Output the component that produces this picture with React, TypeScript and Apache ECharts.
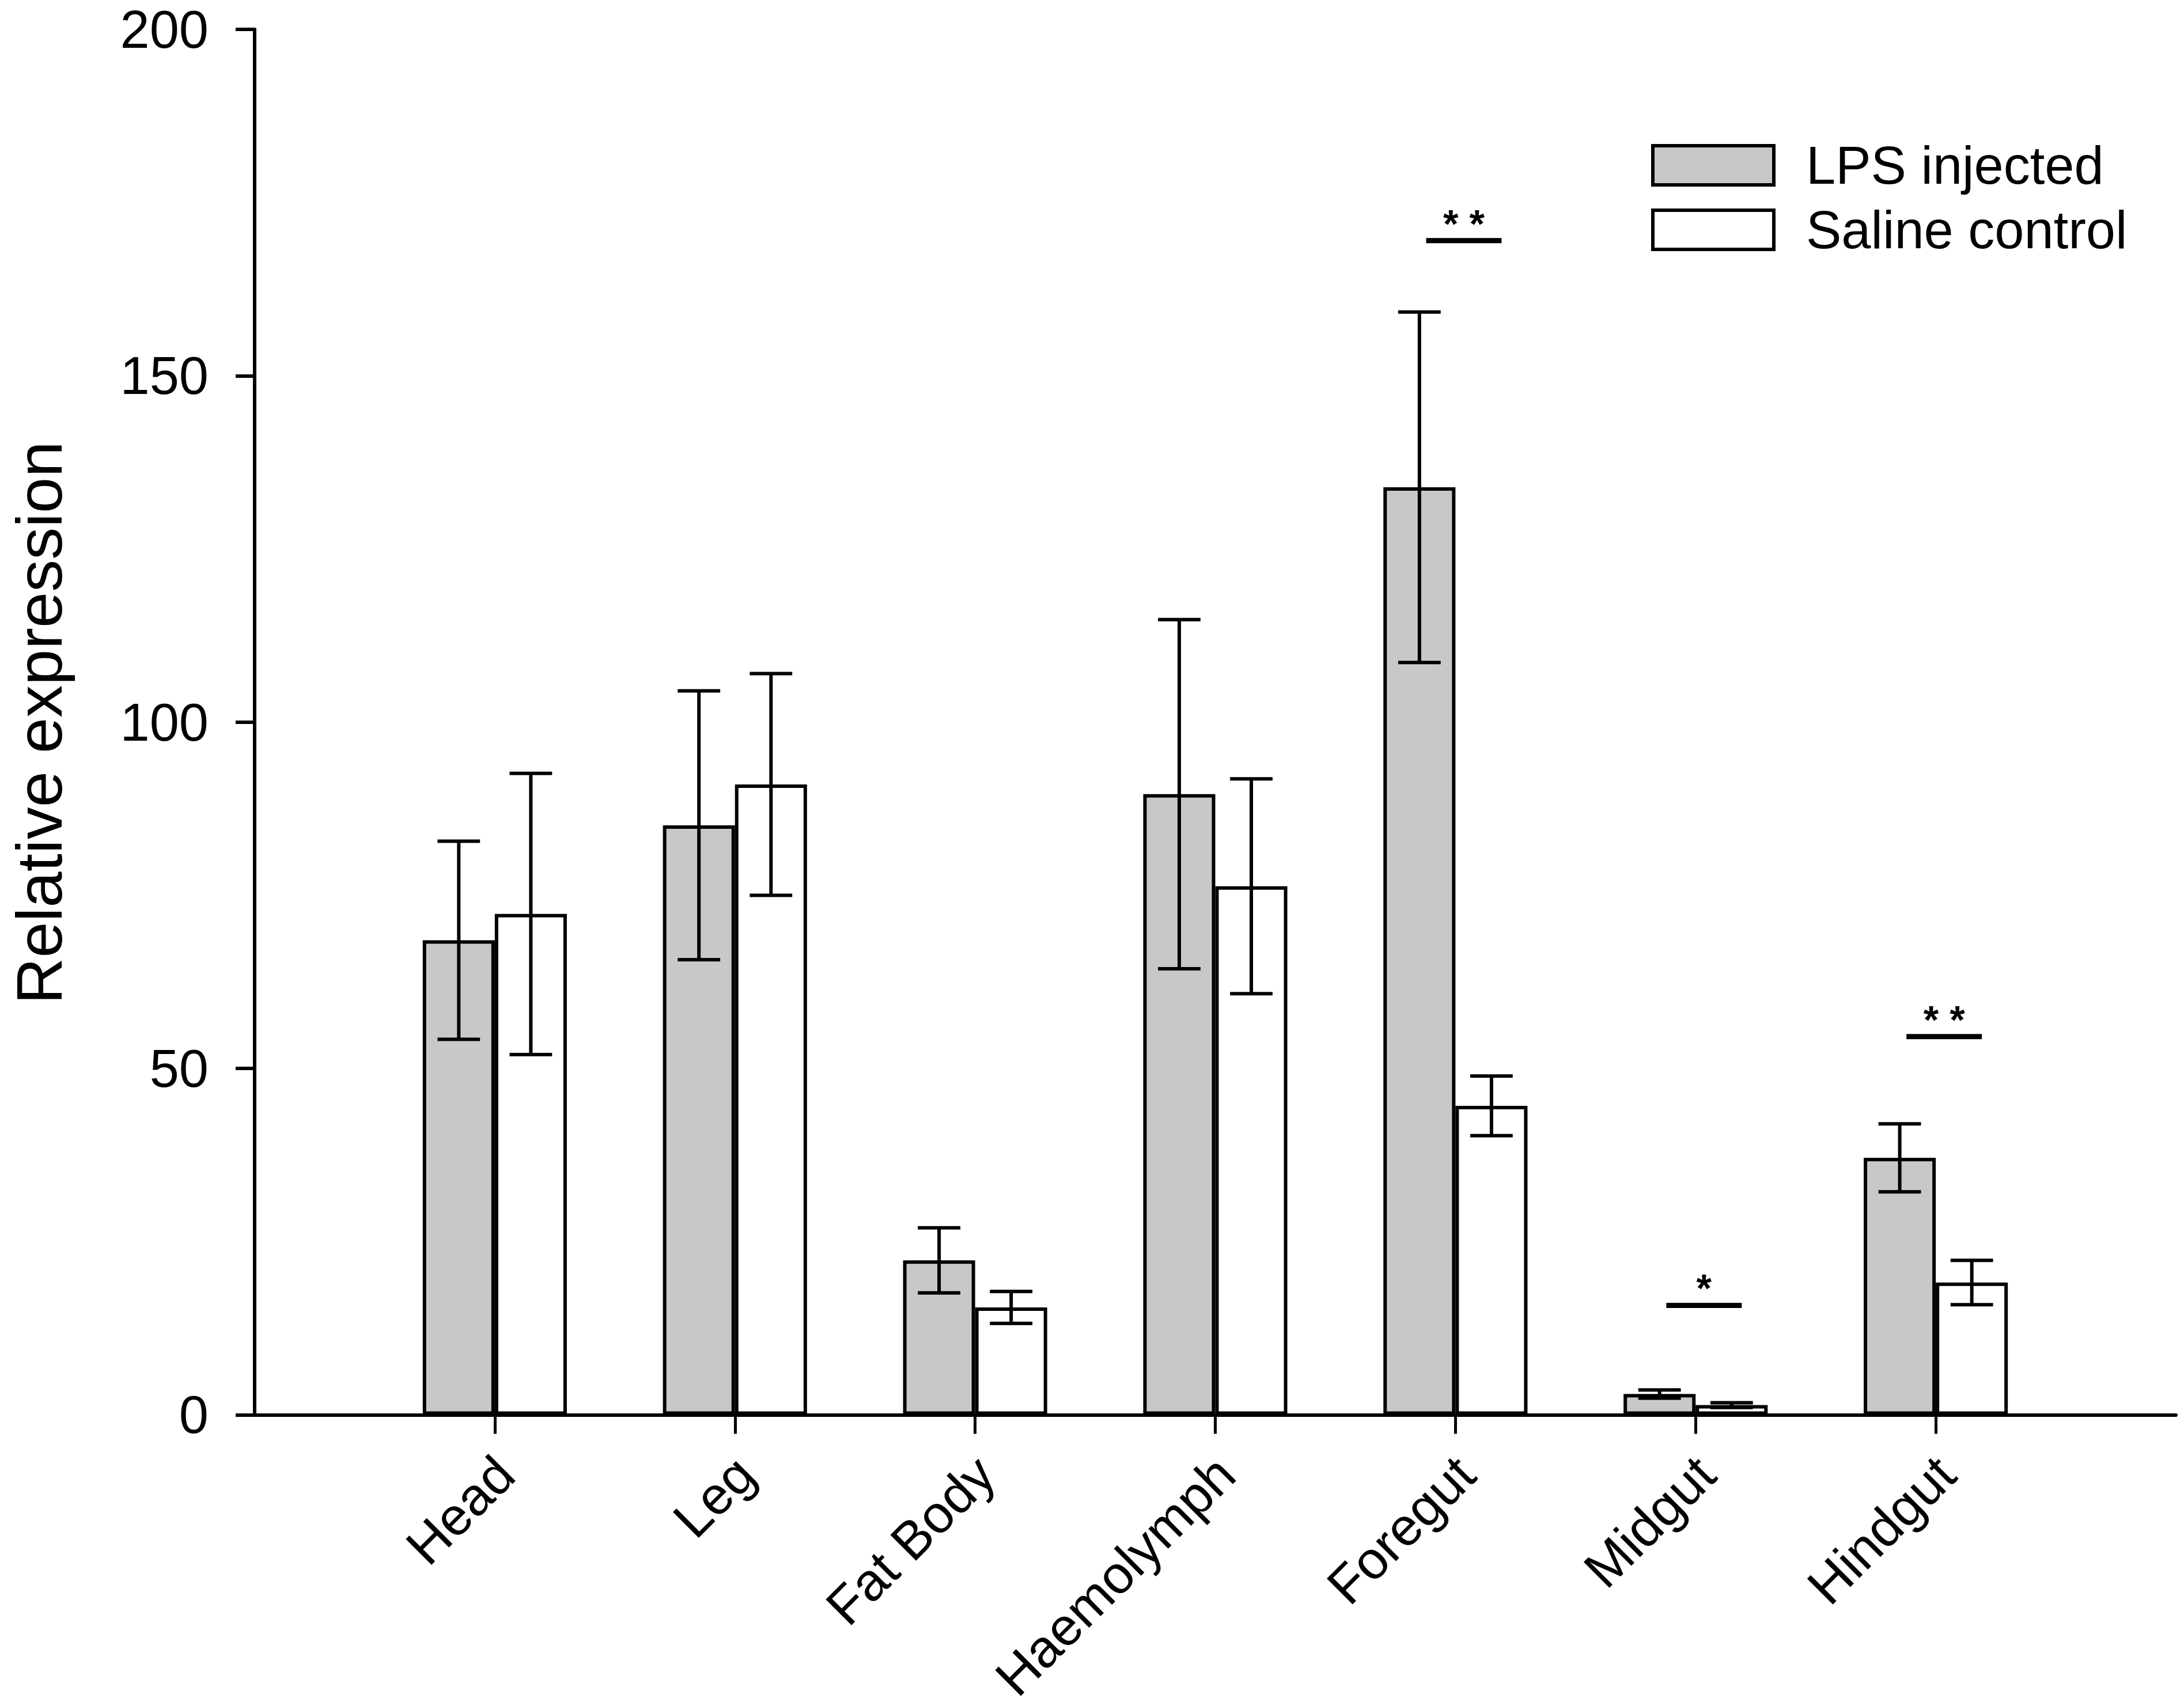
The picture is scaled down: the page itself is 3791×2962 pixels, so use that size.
import React, { useEffect, useRef } from 'react';
import * as echarts from 'echarts';

// ---- data ----
const categories = ['', 'Head', 'Leg', 'Fat Body', 'Haemolymph', 'Foregut', 'Midgut', 'Hindgut', ''];
const lpsMean = [null, 68.5, 85.1, 22.3, 89.6, 133.9, 3.0, 37.1, null];
const lpsErr = [null, 14.3, 19.4, 4.7, 25.2, 25.3, 0.6, 4.9, null];
const salineMean = [null, 72.3, 91.0, 15.5, 76.3, 44.6, 1.4, 19.1, null];
const salineErr = [null, 20.3, 16.0, 2.3, 15.5, 4.3, 0.35, 3.2, null];
const sigCategories = ['Foregut', 'Midgut', 'Hindgut'];
const sigHeights = [169.5, 15.8, 54.6];
const sigLabels = ['* *', '*', '* *'];
const seriesNames = ['LPS injected', 'Saline control'];
const yMin = 0;
const yMax = 200;
const yInterval = 50;
const yTitle = 'Relative expression';

const FONT = '"Liberation Sans", Arial, Helvetica, sans-serif';
const BAR_FRAC = 0.3;
const LW = 6;

function errItems(means: (number | null)[], errs: (number | null)[]) {
  const out: any[] = [];
  means.forEach((m, i) => {
    if (m !== null && errs[i] !== null) out.push([categories[i], m, errs[i]]);
  });
  return out;
}

function makeErrorRender(side: number) {
  return (params: any, api: any) => {
    const mean = api.value(1);
    const err = api.value(2);
    const idx = api.value(0);
    const band = api.size([1, 0])[0];
    const w = band * BAR_FRAC;
    const cx = api.coord([idx, mean])[0] + (side * w) / 2;
    const top = api.coord([idx, mean + err])[1];
    const bot = api.coord([idx, mean - err])[1];
    const cap = (w * 0.59) / 2;
    const st = { stroke: '#000', lineWidth: LW };
    return {
      type: 'group',
      children: [
        { type: 'line', shape: { x1: cx, y1: top, x2: cx, y2: bot }, style: st },
        { type: 'line', shape: { x1: cx - cap, y1: top, x2: cx + cap, y2: top }, style: st },
        { type: 'line', shape: { x1: cx - cap, y1: bot, x2: cx + cap, y2: bot }, style: st },
      ],
    };
  };
}

export default function App() {
  const ref = useRef<HTMLDivElement>(null);
  useEffect(() => {
    if (!ref.current) return;
    const chart = echarts.init(ref.current, null, { renderer: 'svg' });
    const sigData = sigCategories.map((c, i) => [c, sigHeights[i]]);
    chart.setOption({
      animation: false,
      backgroundColor: '#fff',
      grid: { left: 442, right: 14, top: 51, bottom: 503, containLabel: false },
      legend: {
        orient: 'vertical',
        left: 2861,
        top: 236,
        itemWidth: 210,
        itemHeight: 68,
        itemGap: 20,
        icon: 'rect',
        selectedMode: false,
        data: seriesNames,
        itemStyle: { borderColor: '#000', borderWidth: 6 },
        textStyle: { fontSize: 92, fontFamily: FONT, color: '#000', padding: [0, 0, 0, 51] },
      },
      xAxis: {
        type: 'category',
        data: categories,
        boundaryGap: false,
        axisLine: { show: true, lineStyle: { color: '#000', width: LW } },
        axisTick: {
          show: true,
          length: 33,
          interval: (i: number) => i !== 0 && i !== categories.length - 1,
          lineStyle: { color: '#000', width: 5 },
        },
        axisLabel: {
          interval: 0,
          rotate: 45,
          margin: 70,
          fontSize: 92,
          lineHeight: 50,
          verticalAlign: 'top',
          fontFamily: FONT,
          color: '#000',
        },
        splitLine: { show: false },
      },
      yAxis: {
        type: 'value',
        min: yMin,
        max: yMax,
        interval: yInterval,
        axisLine: { show: true, lineStyle: { color: '#000', width: LW } },
        axisTick: { show: true, length: 33, lineStyle: { color: '#000', width: LW } },
        axisLabel: { margin: 80, fontSize: 92, fontFamily: FONT, color: '#000' },
        splitLine: { show: false },
      },
      graphic: [
        {
          type: 'text',
          x: 68,
          y: 1255,
          rotation: Math.PI / 2,
          style: {
            text: yTitle,
            fontSize: 112,
            fontFamily: FONT,
            fill: '#000',
            textAlign: 'center',
            textVerticalAlign: 'middle',
          },
        },
      ],
      series: [
        {
          name: seriesNames[0],
          type: 'bar',
          data: lpsMean,
          barWidth: BAR_FRAC * 100 + '%',
          barGap: '0%',
          itemStyle: { color: '#c8c8c8', borderColor: '#000', borderWidth: LW },
          z: 2,
        },
        {
          name: seriesNames[1],
          type: 'bar',
          data: salineMean,
          barWidth: BAR_FRAC * 100 + '%',
          barGap: '0%',
          itemStyle: { color: '#ffffff', borderColor: '#000', borderWidth: LW },
          z: 2,
        },
        {
          type: 'custom',
          data: errItems(lpsMean, lpsErr),
          encode: { x: 0, y: 1 },
          renderItem: makeErrorRender(-1),
          z: 5,
          silent: true,
        },
        {
          type: 'custom',
          data: errItems(salineMean, salineErr),
          encode: { x: 0, y: 1 },
          renderItem: makeErrorRender(1),
          z: 5,
          silent: true,
        },
        {
          type: 'custom',
          data: sigData,
          encode: { x: 0, y: 1 },
          z: 6,
          silent: true,
          renderItem: (params: any, api: any) => {
            const idx = api.value(0);
            const h = api.value(1);
            const band = api.size([1, 0])[0];
            const p = api.coord([idx, h]);
            const cx = p[0] + band * 0.035;
            const half = band * 0.157;
            return {
              type: 'group',
              children: [
                {
                  type: 'line',
                  shape: { x1: cx - half, y1: p[1], x2: cx + half, y2: p[1] },
                  style: { stroke: '#000', lineWidth: 9 },
                },
                {
                  type: 'text',
                  x: cx,
                  y: p[1] - 30,
                  style: {
                    text: sigLabels[params.dataIndex],
                    fontSize: 68,
                    fontWeight: 'bold',
                    fontFamily: FONT,
                    fill: '#000',
                    textAlign: 'center',
                    textVerticalAlign: 'middle',
                  },
                },
              ],
            };
          },
        },
      ],
    });
    return () => chart.dispose();
  }, []);
  return (
    <div
      ref={ref}
      style={{ position: 'fixed', left: 0, top: 0, width: '3791px', height: '2962px', background: '#fff' }}
    />
  );
}
